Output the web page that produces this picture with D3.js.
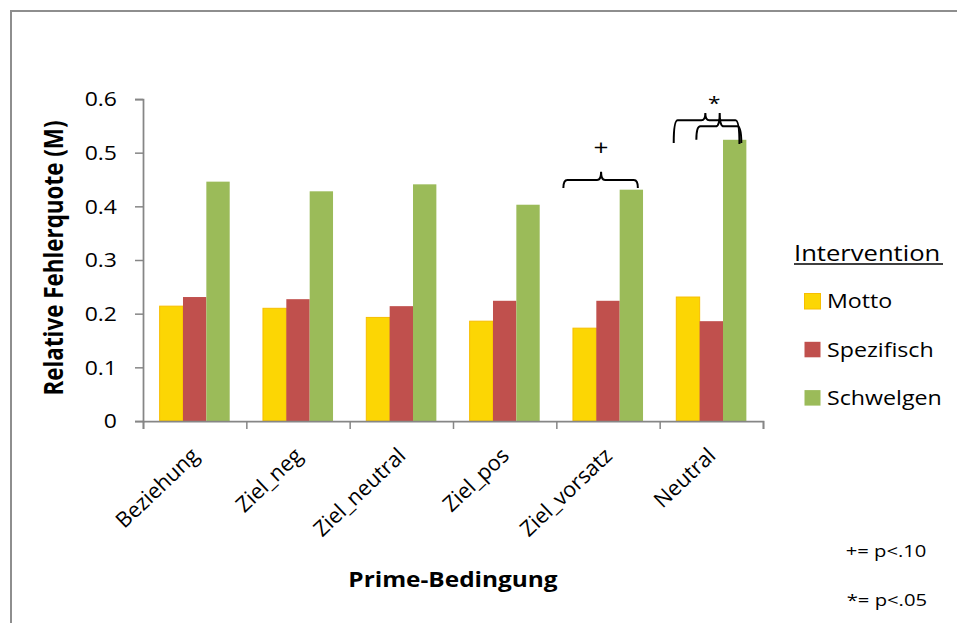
<!DOCTYPE html>
<html>
<head>
<meta charset="utf-8">
<script src="https://cdn.jsdelivr.net/npm/d3@7"></script>
<style>
  html, body { margin: 0; padding: 0; background: #fff; }
  svg { display: block; }
  text { font-family: "Open Sans", "Noto Sans", sans-serif; fill: #000; font-weight: 500; }
</style>
</head>
<body>
<svg id="chart" width="957" height="623"></svg>
<script>
// Categories (prime conditions) and the three intervention series
const categories = ["Beziehung", "Ziel_neg", "Ziel_neutral", "Ziel_pos", "Ziel_vorsatz", "Neutral"];
const seriesNames = ["Motto", "Spezifisch", "Schwelgen"];
const motto      = [0.214, 0.210, 0.193, 0.186, 0.173, 0.231];
const spezifisch = [0.231, 0.227, 0.214, 0.224, 0.224, 0.186];
const schwelgen  = [0.446, 0.428, 0.441, 0.403, 0.431, 0.524];
const yTicks = [0, 0.1, 0.2, 0.3, 0.4, 0.5, 0.6];

// Significance braces: category, horizontal extent as fraction of the band,
// nub position, and heights in data units
const braces = [
  { cat: "Ziel_vorsatz", f1: 0.068, f2: 0.789, fm: 0.433, yH: 0.449, tipL: 0.434, tipR: 0.434, nub: 0.4645 },
  { cat: "Neutral", f1: 0.136, f2: 0.772, fm: 0.442, yH: 0.5603, tipL: 0.518, tipR: 0.516, nub: 0.574 },
  { cat: "Neutral", f1: 0.355, f2: 0.790, fm: 0.581, yH: 0.549, tipL: 0.524, tipR: 0.518, nub: 0.574 }
];
const marks = [
  { cat: "Ziel_vorsatz", f: 0.433, y: 0.4965, text: "+", size: 22 },
  { cat: "Neutral", f: 0.528, y: 0.580, text: "*", size: 19 }
];
const footnotes = ["+= p<.10", "*= p<.05"];

const colors = { Motto: "#FCD604", Spezifisch: "#C0504D", Schwelgen: "#9BBB59" };
const strokes = { Motto: "#F7BE00", Spezifisch: "none", Schwelgen: "none" };
const values = { Motto: motto, Spezifisch: spezifisch, Schwelgen: schwelgen };

const SX = 1.19; // horizontal text stretch
const svg = d3.select("#chart");

// chart frame
svg.append("path")
  .attr("d", "M11,700 V11 H1000")
  .attr("fill", "none").attr("stroke", "#8e8e8e").attr("stroke-width", 2);

const plot = { left: 143, right: 763, top: 99, bottom: 421 };

const x0 = d3.scaleBand().domain(categories).range([plot.left, plot.right]).padding(0);
const groupPad = x0.bandwidth() * 0.161;
const x1 = d3.scaleBand().domain(seriesNames).range([groupPad, x0.bandwidth() - groupPad]).padding(0);
const y = d3.scaleLinear().domain([0, 0.6]).range([plot.bottom, plot.top]);
const xEdge = d3.scaleLinear().domain([0, categories.length]).range([plot.left, plot.right]);

// bars
const groups = svg.append("g").selectAll("g")
  .data(categories).join("g")
  .attr("transform", d => `translate(${x0(d)},0)`);
groups.selectAll("rect")
  .data((c, i) => seriesNames.map(s => ({ s, v: values[s][i] })))
  .join("rect")
  .attr("x", d => x1(d.s))
  .attr("width", x1.bandwidth())
  .attr("y", d => y(d.v))
  .attr("height", d => y(0) - y(d.v))
  .attr("fill", d => colors[d.s])
  .attr("stroke", d => strokes[d.s])
  .attr("stroke-width", 1);

// y axis
const yAxis = svg.append("g")
  .attr("transform", `translate(${plot.left},0)`)
  .call(d3.axisLeft(y).tickValues(yTicks).tickSize(8).tickPadding(0)
    .tickFormat(d => d === 0 ? "0" : d3.format(".1f")(d)));
yAxis.select(".domain").attr("stroke", "#868686").attr("stroke-width", 1.75);
yAxis.selectAll(".tick line").attr("stroke", "#868686").attr("stroke-width", 1.5);
yAxis.selectAll(".tick text")
  .attr("x", 0).attr("dy", "0.36em")
  .attr("transform", `translate(-26,0) scale(${SX},1)`)
  .attr("text-anchor", "end")
  .style("font-size", "19.3px").style("font-family", "'Open Sans'");

// x axis: ticks on category boundaries
const xAxis = svg.append("g")
  .attr("transform", `translate(0,${plot.bottom})`)
  .call(d3.axisBottom(xEdge).ticks(categories.length).tickSize(8).tickFormat(""));
xAxis.select(".domain").attr("stroke", "#868686").attr("stroke-width", 1.75);
xAxis.selectAll(".tick line").attr("stroke", "#868686").attr("stroke-width", 1.5);

// category labels
svg.append("g").selectAll("text")
  .data(categories).join("text")
  .attr("transform", d => `translate(${x0(d) + x0.bandwidth() / 2 - 5},446) rotate(-43.5)`)
  .attr("text-anchor", "end")
  .attr("dy", "0.72em")
  .style("font-size", "21.5px")
  .text(d => d);

// axis titles
svg.append("text")
  .attr("transform", `translate(${(plot.left + plot.right) / 2},587) scale(${SX},1)`)
  .attr("text-anchor", "middle")
  .style("font-size", "20.5px").style("font-weight", "bold")
  .text("Prime-Bedingung");
svg.append("text")
  .attr("transform", `translate(63,258) scale(${SX},1) rotate(-90)`)
  .attr("text-anchor", "middle")
  .style("font-size", "22.4px").style("font-weight", "bold")
  .text("Relative Fehlerquote (M)");

// significance braces
const braceG = svg.append("g").attr("fill", "none").attr("stroke", "#000").attr("stroke-width", 2);
braces.forEach(b => {
  const bx = f => x0(b.cat) + f * x0.bandwidth();
  const xa = bx(b.f1), xb = bx(b.f2), xm = bx(b.fm);
  const yh = y(b.yH), r = 4;
  const p = d3.path();
  p.moveTo(xa, y(b.tipL));
  p.quadraticCurveTo(xa, yh, xa + r, yh);
  p.lineTo(xm - r, yh);
  p.quadraticCurveTo(xm, yh, xm, y(b.nub));
  p.moveTo(xm, y(b.nub));
  p.quadraticCurveTo(xm, yh, xm + r, yh);
  p.lineTo(xb - r, yh);
  p.quadraticCurveTo(xb, yh, xb, y(b.tipR));
  braceG.append("path").attr("d", p.toString());
});
svg.append("g").selectAll("text")
  .data(marks).join("text")
  .attr("transform", d => `translate(${x0(d.cat) + d.f * x0.bandwidth()},${y(d.y)}) scale(${SX},1)`)
  .attr("text-anchor", "middle")
  .style("font-size", d => d.size + "px")
  .text(d => d.text);

// legend
const legend = svg.append("g");
legend.append("text")
  .attr("transform", `translate(794,261) scale(${SX},1)`)
  .style("font-size", "21.5px")
  .text("Intervention");
legend.append("line")
  .attr("x1", 794).attr("x2", 943).attr("y1", 264).attr("y2", 264)
  .attr("stroke", "#000").attr("stroke-width", 1.6);
const items = legend.selectAll("g.item")
  .data(seriesNames).join("g").attr("class", "item")
  .attr("transform", (d, i) => `translate(0,${i * 48.3})`);
items.append("rect")
  .attr("x", 804.5).attr("y", 293.5).attr("width", 16).attr("height", 15.5)
  .attr("fill", d => colors[d]).attr("stroke", d => strokes[d]).attr("stroke-width", 1);
items.append("text")
  .attr("transform", `translate(827,308.3) scale(${SX},1)`)
  .style("font-size", "19.5px")
  .text(d => d);

// footnotes
svg.append("g").selectAll("text")
  .data(footnotes).join("text")
  .attr("transform", (d, i) => `translate(${845.7 + i},${557.3 + i * 48.7}) scale(${SX},1)`)
  .style("font-size", "17px")
  .text(d => d);
</script>
</body>
</html>
